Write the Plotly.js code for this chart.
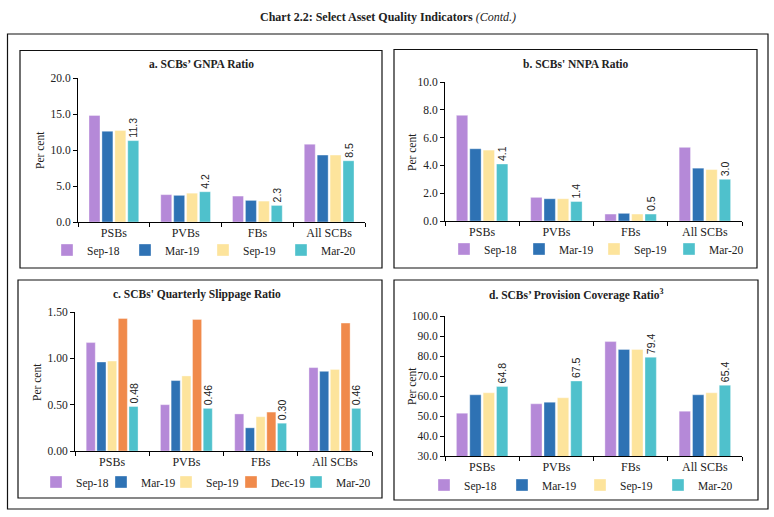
<!DOCTYPE html>
<html><head><meta charset="utf-8">
<script src="https://cdn.plot.ly/plotly-3.0.1.min.js"></script>
<style>html,body{margin:0;padding:0;background:#fff}#chart{width:774px;height:517px}</style>
</head><body><div id="chart"></div>
<script>
// ---------- data ----------
const categories = ['PSBs', 'PVBs', 'FBs', 'All SCBs'];
const periods4 = ['Sep-18', 'Mar-19', 'Sep-19', 'Mar-20'];
const periods5 = ['Sep-18', 'Mar-19', 'Sep-19', 'Dec-19', 'Mar-20'];

const gnpaSep18 = [14.8, 3.8, 3.6, 10.8];
const gnpaMar19 = [12.6, 3.7, 3.0, 9.3];
const gnpaSep19 = [12.7, 4.0, 2.9, 9.3];
const gnpaMar20 = [11.3, 4.2, 2.3, 8.5];

const nnpaSep18 = [7.6, 1.7, 0.5, 5.3];
const nnpaMar19 = [5.2, 1.6, 0.55, 3.8];
const nnpaSep19 = [5.1, 1.6, 0.5, 3.7];
const nnpaMar20 = [4.1, 1.4, 0.5, 3.0];

const slipSep18 = [1.17, 0.50, 0.40, 0.90];
const slipMar19 = [0.96, 0.76, 0.25, 0.86];
const slipSep19 = [0.97, 0.81, 0.37, 0.88];
const slipDec19 = [1.43, 1.42, 0.42, 1.38];
const slipMar20 = [0.48, 0.46, 0.30, 0.46];

const pcrSep18 = [51.4, 56.1, 87.2, 52.4];
const pcrMar19 = [60.6, 56.9, 83.3, 60.6];
const pcrSep19 = [61.6, 59.1, 83.3, 61.6];
const pcrMar20 = [64.8, 67.5, 79.4, 65.4];

const panelTitles = ["a. SCBs\u2019 GNPA Ratio", "b. SCBs' NNPA Ratio",
  "c. SCBs' Quarterly Slippage Ratio", "d. SCBs\u2019 Provision Coverage Ratio<sup>3</sup>"];
const mainTitle = "<b>Chart 2.2: Select Asset Quality Indicators</b> <i>(Contd.)</i>";
const yTitle = "Per cent";

// ---------- style ----------
const colors = {'Sep-18': '#b589d8', 'Mar-19': '#2e72b4', 'Sep-19': '#fde49c', 'Dec-19': '#f08a4b', 'Mar-20': '#4fc1cc'};
const W = 774, H = 517;
const px = v => v / W;
const py = v => 1 - v / H;
const SERIF = 'Liberation Serif, Times New Roman, serif';
const SANS = 'Liberation Sans, Arial, sans-serif';
const INK = '#222';

function bar(name, y, xa, ya, leg, labelFmt) {
  const t = {
    type: 'bar', name: name, x: categories, y: y, xaxis: xa, yaxis: ya, legend: leg,
    marker: {color: colors[name], line: {color: 'rgba(255,255,255,0.6)', width: 0.6}},
    hoverinfo: 'skip', cliponaxis: false
  };
  if (labelFmt) {
    t.texttemplate = '%{y:' + labelFmt + '}';
    t.textposition = 'outside';
    t.textangle = -90;
    t.constraintext = 'none';
    t.textfont = {family: SANS, size: 10.5, color: INK};
  }
  return t;
}

const data = [];
[gnpaSep18, gnpaMar19, gnpaSep19, gnpaMar20].forEach((s, i) =>
  data.push(bar(periods4[i], s, 'x', 'y', 'legend', i === 3 ? '.1f' : null)));
[nnpaSep18, nnpaMar19, nnpaSep19, nnpaMar20].forEach((s, i) =>
  data.push(bar(periods4[i], s, 'x2', 'y2', 'legend2', i === 3 ? '.1f' : null)));
[slipSep18, slipMar19, slipSep19, slipDec19, slipMar20].forEach((s, i) =>
  data.push(bar(periods5[i], s, 'x3', 'y3', 'legend3', i === 4 ? '.2f' : null)));
// invisible spacer entry so the last item of the tight 5-item legend is not clipped
data.push({type: 'scatter', mode: 'markers', name: ' ', x: [categories[0]], y: [null], xaxis: 'x3', yaxis: 'y3',
  legend: 'legend3', marker: {color: 'rgba(0,0,0,0)', size: 1}, hoverinfo: 'skip'});
[pcrSep18, pcrMar19, pcrSep19, pcrMar20].forEach((s, i) =>
  data.push(bar(periods4[i], s, 'x4', 'y4', 'legend4', i === 3 ? '.1f' : null)));

function xax(d0, d1, anchor) {
  return {domain: [px(d0), px(d1)], anchor: anchor, range: [-0.5, 3.5], showline: true, linecolor: '#000', linewidth: 1,
    ticks: 'outside', tickson: 'boundaries', ticklen: 4, tickcolor: '#000', showgrid: false, zeroline: false,
    tickfont: {family: SERIF, size: 12, color: INK}, fixedrange: true};
}
function yax(top, bottom, anchor, range, dtick, fmt) {
  return {domain: [py(bottom), py(top)], anchor: anchor, range: range, dtick: dtick, tickformat: fmt,
    showline: true, linecolor: '#000', linewidth: 1, ticks: 'outside', ticklen: 4, tickcolor: '#000',
    showgrid: false, zeroline: false, tickfont: {family: SERIF, size: 11.5, color: INK}, fixedrange: true};
}
function leg(xpx, ypx, ew) {
  return {x: px(xpx), y: py(ypx), xanchor: 'left', yanchor: 'middle', orientation: 'h', entrywidth: ew,
    font: {family: SERIF, size: 11.5, color: INK}, bgcolor: 'rgba(0,0,0,0)', itemwidth: 30, traceorder: 'normal'};
}
function box(x0, y0, x1, y1) {
  return {type: 'rect', xref: 'paper', yref: 'paper', x0: px(x0), x1: px(x1), y0: py(y1), y1: py(y0),
    line: {color: '#111', width: 1.2}, fillcolor: 'rgba(0,0,0,0)'};
}
function ann(text, xpx, ypx, opts) {
  return Object.assign({text: text, x: px(xpx), y: py(ypx), xref: 'paper', yref: 'paper', showarrow: false,
    xanchor: 'center', yanchor: 'middle', font: {family: SERIF, size: 11.5, color: INK}}, opts || {});
}

const layout = {
  width: W, height: H, margin: {l: 0, r: 0, t: 0, b: 0}, paper_bgcolor: '#fff', plot_bgcolor: 'rgba(0,0,0,0)',
  barmode: 'group', bargap: 0.28, bargroupgap: 0.15, showlegend: true,
  xaxis: xax(78, 365, 'y'), yaxis: yax(78, 222, 'x', [0, 20], 5, '.1f'),
  xaxis2: xax(445, 742, 'y2'), yaxis2: yax(82, 221, 'x2', [0, 10], 2, '.1f'),
  xaxis3: xax(75, 372, 'y3'), yaxis3: yax(312, 451, 'x3', [0, 1.5], 0.5, '.2f'),
  xaxis4: xax(445, 742, 'y4'), yaxis4: yax(316, 456, 'x4', [30, 100], 10, '.1f'),
  legend: leg(47, 250, 33), legend2: leg(444, 249, 30), legend3: leg(36, 482, 20), legend4: leg(424, 485, 33),
  shapes: [box(7.5, 34, 768, 509), box(20, 50.5, 382, 268), box(394, 49.5, 757, 268),
           box(18, 280, 382, 498), box(394, 280, 758, 500)],
  annotations: [
    ann(mainTitle, 388, 17, {font: {family: SERIF, size: 12, color: INK}}),
    ann('<b>' + panelTitles[0] + '</b>', 201, 64),
    ann('<b>' + panelTitles[1] + '</b>', 575, 64),
    ann('<b>' + panelTitles[2] + '</b>', 197, 294),
    ann('<b>' + panelTitles[3] + '</b>', 576, 294),
    ann(yTitle, 40, 150, {textangle: -90}),
    ann(yTitle, 412, 152, {textangle: -90}),
    ann(yTitle, 37, 382, {textangle: -90}),
    ann(yTitle, 412, 386, {textangle: -90})
  ]
};

Plotly.newPlot('chart', data, layout, {staticPlot: true, displayModeBar: false});
</script></body></html>
